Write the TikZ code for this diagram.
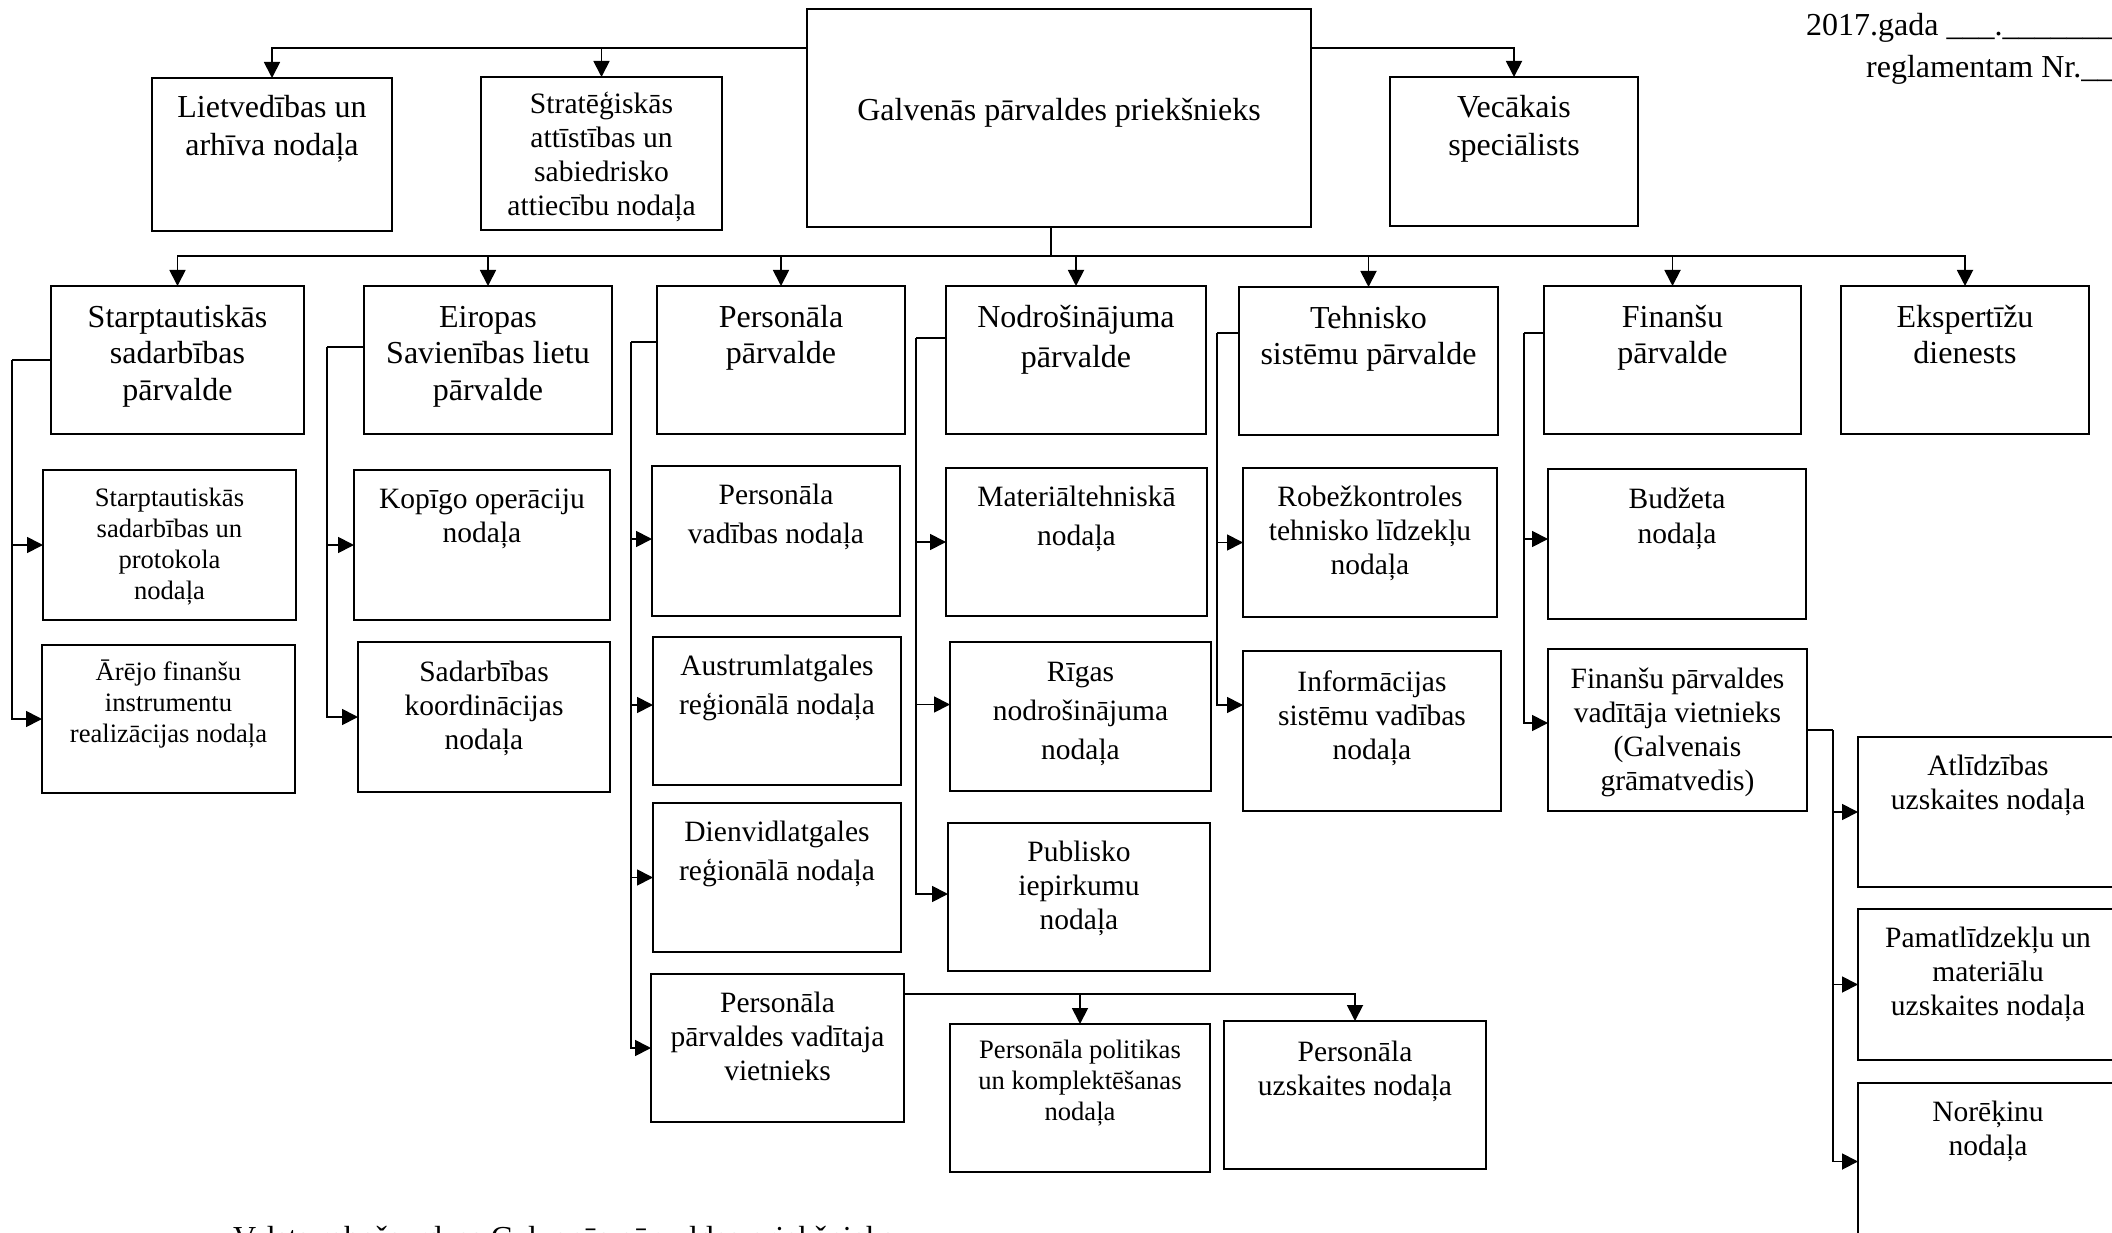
\documentclass[tikz,border=0pt]{standalone}
\usepackage{fontspec}
\setmainfont{Liberation Serif}
\usetikzlibrary{arrows.meta}
\tikzset{
  boxst/.style={draw, line width=2pt, inner sep=0pt, outer sep=0pt, fill=white},
  arr/.style={line width=1.8pt, -{Triangle[length=16pt,width=16pt]}},
  ln/.style={line width=1.8pt},
  plain/.style={anchor=base west, inner sep=0pt, font=\fontsize{32}{37}\selectfont},
}
% name, x1, y1, x2, y2, font size, baselineskip, first baseline offset, text
\newcommand\orgbox[9]{%
  \node[boxst, anchor=north west] (#1) at (#2,#3)
   {\parbox[t][\dimexpr #5pt-#3pt\relax][t]{\dimexpr #4pt-#2pt\relax}{\centering\fontsize{#6pt}{#7pt}\selectfont\rule{0pt}{#8pt}#9\par}};}
\begin{document}
\begin{tikzpicture}[x=1pt,y=-1pt]
\useasboundingbox (0,0) rectangle (2112,1233);
\clip (0,0) rectangle (2112,1233);
\fill[white] (0,0) rectangle (2112,1233);

% top row
\orgbox{lv}{152}{78}{392}{231}{32}{37.7}{40}{Lietvedības un\\arhīva nodaļa}
\orgbox{sa}{481}{77}{722}{230}{29.6}{34}{37}{Stratēģiskās\\attīstības un\\sabiedrisko\\attiecību nodaļa}
\orgbox{gp}{807}{9}{1311}{227}{32}{37}{112}{Galvenās pārvaldes priekšnieks}
\orgbox{vs}{1390}{77}{1638}{226}{32}{37.7}{41}{Vecākais\\speciālists}

% second row heads
\orgbox{st}{51}{286}{304}{434}{32}{36.5}{41}{Starptautiskās\\sadarbības\\pārvalde}
\orgbox{eu}{364}{286}{612}{434}{32}{36.5}{41}{Eiropas\\Savienības lietu\\pārvalde}
\orgbox{pv}{657}{286}{905}{434}{32}{36.5}{41}{Personāla\\pārvalde}
\orgbox{np}{946}{286}{1206}{434}{32}{40}{41}{Nodrošinājuma\\pārvalde}
\orgbox{tp}{1239}{287}{1498}{435}{32}{36.5}{41}{Tehnisko\\sistēmu pārvalde}
\orgbox{fp}{1544}{286}{1801}{434}{32}{36.5}{41}{Finanšu\\pārvalde}
\orgbox{ep}{1841}{286}{2089}{434}{32}{36.5}{41}{Ekspertīžu\\dienests}

% column 1
\orgbox{s1}{43}{470}{296}{620}{26.6}{31}{36}{Starptautiskās\\sadarbības un\\protokola\\nodaļa}
\orgbox{s2}{42}{645}{295}{793}{26.6}{31}{35}{Ārējo finanšu\\instrumentu\\realizācijas nodaļa}
% column 2
\orgbox{e1}{354}{470}{610}{620}{29.5}{34}{38}{Kopīgo operāciju\\nodaļa}
\orgbox{e2}{358}{642}{610}{792}{29.5}{34}{39}{Sadarbības\\koordinācijas\\nodaļa}
% column 3
\orgbox{p1}{652}{466}{900}{616}{29.5}{39}{38}{Personāla\\vadības nodaļa}
\orgbox{p2}{653}{637}{901}{785}{29.5}{39}{38}{Austrumlatgales\\reģionālā nodaļa}
\orgbox{p3}{653}{803}{901}{952}{29.5}{39}{38}{Dienvidlatgales\\reģionālā nodaļa}
\orgbox{p4}{651}{974}{904}{1122}{29.5}{34}{38}{Personāla\\pārvaldes vadītaja\\vietnieks}
\orgbox{pp}{950}{1024}{1210}{1172}{26.6}{31}{34}{Personāla politikas\\un komplektēšanas\\nodaļa}
\orgbox{pu}{1224}{1021}{1486}{1169}{29.5}{34}{40}{Personāla\\uzskaites nodaļa}
% column 4
\orgbox{n1}{946}{468}{1207}{616}{29.5}{39}{38}{Materiāltehniskā\\nodaļa}
\orgbox{n2}{950}{642}{1211}{791}{29.5}{39}{39}{Rīgas\\nodrošinājuma\\nodaļa}
\orgbox{n3}{948}{823}{1210}{971}{29.5}{34}{38}{Publisko\\iepirkumu\\nodaļa}
% column 5
\orgbox{t1}{1243}{468}{1497}{617}{29.5}{34}{38}{Robežkontroles\\tehnisko līdzekļu\\nodaļa}
\orgbox{t2}{1243}{651}{1501}{811}{29.5}{34}{40}{Informācijas\\sistēmu vadības\\nodaļa}
% column 6
\orgbox{f1}{1548}{469}{1806}{619}{29.5}{35}{39}{Budžeta\\nodaļa}
\orgbox{f2}{1548}{649}{1807}{811}{29.5}{34}{39}{Finanšu pārvaldes\\vadītāja vietnieks\\(Galvenais\\grāmatvedis)}
\orgbox{a1}{1858}{737}{2118}{887}{29.5}{34}{38}{Atlīdzības\\uzskaites nodaļa}
\orgbox{a2}{1858}{909}{2118}{1060}{29.5}{34}{38}{Pamatlīdzekļu un\\materiālu\\uzskaites nodaļa}
\orgbox{a3}{1858}{1083}{2118}{1240}{29.5}{34}{38}{Norēķinu\\nodaļa}

% top connectors
\draw[arr] (gp.north west) ++(0,39) coordinate (gl) -| (lv.north);
\draw[arr] (gl) -| (sa.north);
\draw[arr] (gp.north east) ++(0,39) coordinate (gr) -| (vs.north);

% trunk and bus
\draw[ln] ([xshift=-8pt]gp.south) -- ++(0,29) coordinate (bus);
\foreach \b in {st,eu,pv,np,tp,fp,ep} \draw[arr] (bus) -| (\b.north);

% column 1
\draw[ln] (st.west) -- ++(-39,0) coordinate (c1);
\draw[arr] (c1) |- (s1.west);
\draw[arr] (c1) |- (s2.west);
% column 2
\draw[ln] ([yshift=13pt]eu.west) -- ++(-37,0) coordinate (c2);
\draw[arr] (c2) |- (e1.west);
\draw[arr] (c2) |- (e2.west);
% column 3
\draw[ln] ([yshift=18pt]pv.west) -- ++(-26,0) coordinate (c3);
\draw[arr] (c3) |- ([yshift=2pt]p1.west);
\draw[arr] (c3) |- ([yshift=6pt]p2.west);
\draw[arr] (c3) |- (p3.west);
\draw[arr] (c3) |- (p4.west);
\draw[ln] (p4.north east) ++(0,20) coordinate (c7);
\draw[arr] (c7) -| (pp.north);
\draw[arr] (c7) -| (pu.north);
% column 4
\draw[ln] ([yshift=22pt]np.west) -- ++(-30,0) coordinate (c4);
\draw[arr] (c4) |- (n1.west);
\draw[arr] (c4) |- ([yshift=12pt]n2.west);
\draw[arr] (c4) |- ([yshift=3pt]n3.west);
% column 5
\draw[ln] ([yshift=28pt]tp.west) -- ++(-22,0) coordinate (c5);
\draw[arr] (c5) |- (t1.west);
\draw[arr] (c5) |- ([yshift=26pt]t2.west);
% column 6
\draw[ln] ([yshift=27pt]fp.west) -- ++(-20,0) coordinate (c6);
\draw[arr] (c6) |- ([yshift=5pt]f1.west);
\draw[arr] (c6) |- ([yshift=7pt]f2.west);
\draw[ln] (f2.east) -- ++(26,0) coordinate (c8);
\draw[arr] (c8) |- (a1.west);
\draw[arr] (c8) |- (a2.west);
\draw[arr] (c8) |- (a3.west);

% free texts (cut off at the page edge, as in the reference)
\node[plain] (hdr1) at (1806,36) {2017.gada \_\_\_.\_\_\_\_\_\_\_\_\_\_};
\node[plain] (hdr2) at (1866,78) {reglamentam Nr.\_\_\_\_};
\node[plain] (sig) at (233,1248) {Valsts robežsardzes Galvenās pārvaldes priekšnieks};
\end{tikzpicture}
\end{document}
